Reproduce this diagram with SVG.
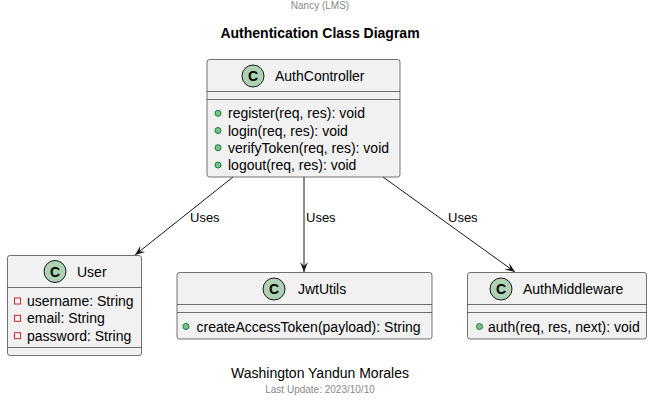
<svg xmlns="http://www.w3.org/2000/svg" width="654" height="402" viewBox="0 0 654 402">
<style>
text{font-family:"Liberation Sans",Arial,sans-serif;fill:#000}
.box{fill:#F1F1F1;stroke:#181818;stroke-width:0.6}
.sep{stroke:#181818;stroke-width:0.6}
.spot{fill:#ADD1B2;stroke:#181818;stroke-width:1}
.spotC{font-size:14px;font-weight:bold;text-anchor:middle}
.name{font-size:14px}
.mem{font-size:14px}
.pub{fill:#84BE84;stroke:#038048;stroke-width:1}
.priv{fill:none;stroke:#C82930;stroke-width:1}
.edge{stroke:#181818;stroke-width:1;fill:none}
.lbl{font-size:13px}
.gray{fill:#888888;font-size:10px;text-anchor:middle}
</style>
<defs>
<marker id="arr" viewBox="0 0 10 10" refX="10" refY="5" markerWidth="10" markerHeight="10" markerUnits="userSpaceOnUse" orient="auto">
<path d="M0,1 L10,5 L0,9 L4,5 Z" fill="#181818"/>
</marker>
</defs>
<text class="gray" x="320" y="9">Nancy (LMS)</text>
<text x="320" y="38" text-anchor="middle" font-size="14" font-weight="bold">Authentication Class Diagram</text>

<g id="connectors">
<line class="edge" x1="233" y1="177" x2="135" y2="255" marker-end="url(#arr)"/>
<line class="edge" x1="304" y1="177" x2="304" y2="272" marker-end="url(#arr)"/>
<line class="edge" x1="383" y1="177" x2="515" y2="272" marker-end="url(#arr)"/>
<text class="lbl" x="190" y="222">Uses</text>
<text class="lbl" x="306" y="222">Uses</text>
<text class="lbl" x="448" y="222">Uses</text>
</g>

<g id="AuthController">
<rect class="box" x="207" y="59.5" width="193" height="117.5" rx="2.5"/>
<circle class="spot" cx="253" cy="76" r="11"/>
<text class="spotC" x="253" y="81">C</text>
<text class="name" x="275" y="81">AuthController</text>
<line class="sep" x1="207" y1="91.5" x2="400" y2="91.5"/>
<line class="sep" x1="207" y1="99.5" x2="400" y2="99.5"/>
<circle class="pub" cx="218" cy="113.3" r="3"/>
<text class="mem" x="228" y="118.3">register(req, res): void</text>
<circle class="pub" cx="218" cy="130.5" r="3"/>
<text class="mem" x="228" y="135.5">login(req, res): void</text>
<circle class="pub" cx="218" cy="147.7" r="3"/>
<text class="mem" x="228" y="152.7">verifyToken(req, res): void</text>
<circle class="pub" cx="218" cy="165" r="3"/>
<text class="mem" x="228" y="170">logout(req, res): void</text>
</g>

<g id="User">
<rect class="box" x="7.5" y="255.5" width="134" height="100" rx="2.5"/>
<circle class="spot" cx="55" cy="271.5" r="11"/>
<text class="spotC" x="55" y="276.5">C</text>
<text class="name" x="77" y="277">User</text>
<line class="sep" x1="7.5" y1="287.5" x2="141.5" y2="287.5"/>
<rect class="priv" x="14.5" y="298" width="6" height="6"/>
<text class="mem" x="27" y="306">username: String</text>
<rect class="priv" x="14.5" y="315.3" width="6" height="6"/>
<text class="mem" x="27" y="323.3">email: String</text>
<rect class="priv" x="14.5" y="332.7" width="6" height="6"/>
<text class="mem" x="27" y="340.7">password: String</text>
<line class="sep" x1="7.5" y1="347.5" x2="141.5" y2="347.5"/>
</g>

<g id="JwtUtils">
<rect class="box" x="177" y="272.5" width="255" height="66.5" rx="2.5"/>
<circle class="spot" cx="274" cy="289" r="11"/>
<text class="spotC" x="274" y="294">C</text>
<text class="name" x="298" y="294">JwtUtils</text>
<line class="sep" x1="177" y1="304.5" x2="432" y2="304.5"/>
<line class="sep" x1="177" y1="312.5" x2="432" y2="312.5"/>
<circle class="pub" cx="186" cy="326.5" r="3"/>
<text class="mem" x="196.5" y="331.5">createAccessToken(payload): String</text>
</g>

<g id="AuthMiddleware">
<rect class="box" x="467.5" y="272.5" width="179" height="66.5" rx="2.5"/>
<circle class="spot" cx="501" cy="289" r="11"/>
<text class="spotC" x="501" y="294">C</text>
<text class="name" x="523" y="294">AuthMiddleware</text>
<line class="sep" x1="467.5" y1="304.5" x2="646.5" y2="304.5"/>
<line class="sep" x1="467.5" y1="312.5" x2="646.5" y2="312.5"/>
<circle class="pub" cx="479.5" cy="326.5" r="3"/>
<text class="mem" x="488" y="331.5">auth(req, res, next): void</text>
</g>

<text x="320" y="378" text-anchor="middle" font-size="14">Washington Yandun Morales</text>
<text class="gray" x="320" y="393">Last Update: 2023/10/10</text>
</svg>
